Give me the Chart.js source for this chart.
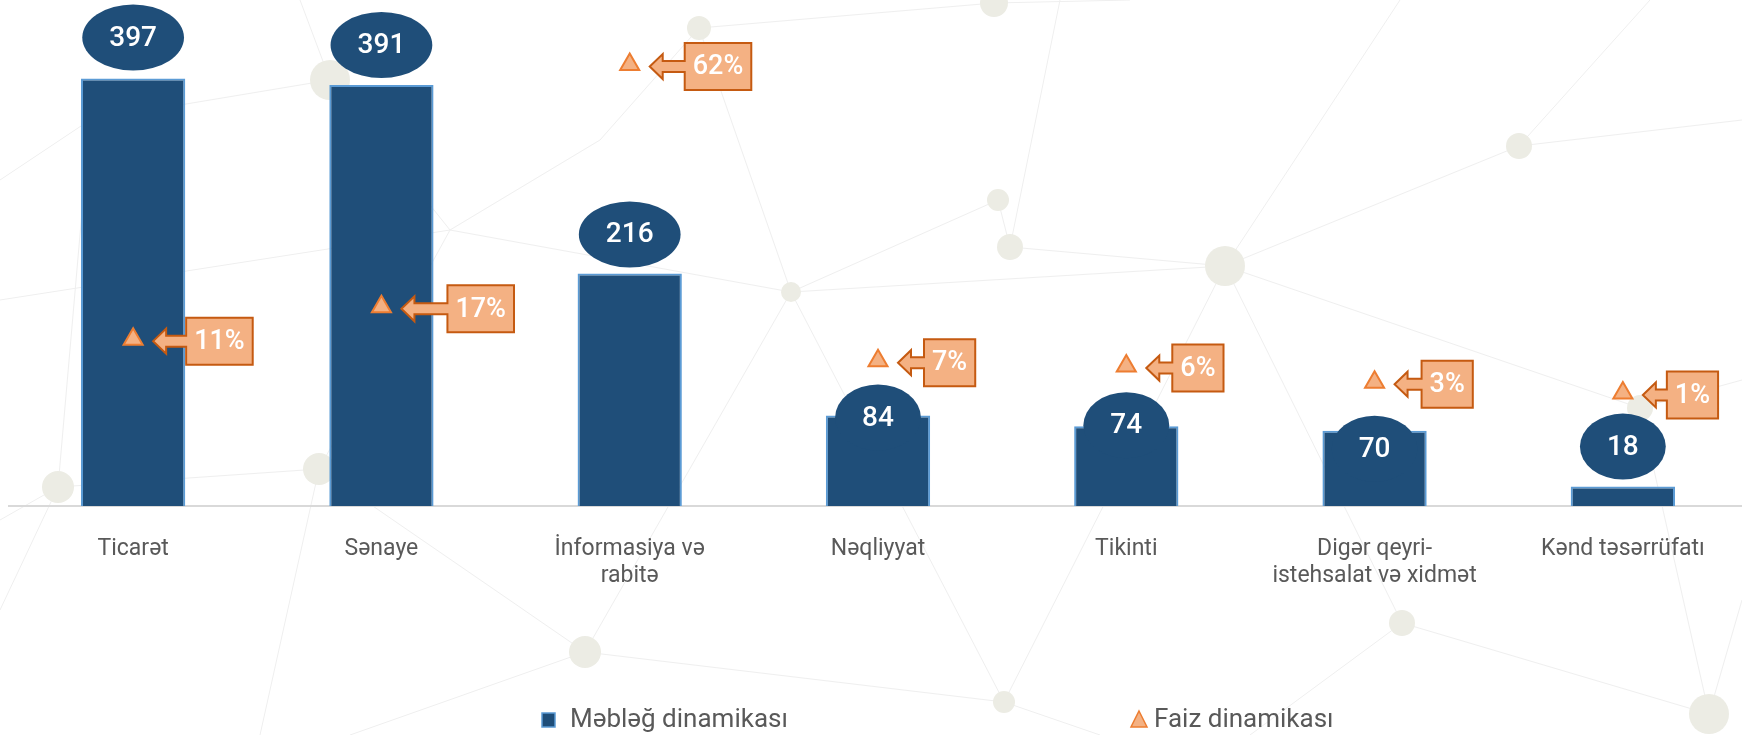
<!DOCTYPE html>
<html>
<head>
<meta charset="utf-8">
<script src="https://cdn.jsdelivr.net/npm/chart.js@4.4.0/dist/chart.umd.min.js"></script>
<style>
  html, body { margin: 0; padding: 0; background: #fff; overflow: hidden; }
  #wrap { width: 1742px; height: 735px; overflow: hidden; }
  canvas { display: block; }
</style>
</head>
<body>
<div id="wrap"><canvas id="chart" width="1747" height="735"></canvas></div>
<script>
// ===== DATA =====
const categories = [
  ['Ticarət'], ['Sənaye'], ['İnformasiya və', 'rabitə'], ['Nəqliyyat'],
  ['Tikinti'], ['Digər qeyri-', 'istehsalat və xidmət'], ['Kənd təsərrüfatı']
];
const amounts  = [397, 391, 216, 84, 74, 70, 18];
const percents = [11, 17, 62, 7, 6, 3, 1];
const seriesNames = ['Məbləğ dinamikası', 'Faiz dinamikası'];

const FONT = 'Roboto, "Noto Sans", sans-serif';
const BLUE = '#1F4E79', BLUE_EDGE = '#5B9BD5';
const ORANGE = '#F4B183', ORANGE_EDGE = '#C55A11', TRI_EDGE = '#ED7D31';
const GREY = '#595959';

// background network decoration (not data)
const bgNodes = [
  [994, 3, 14], [699, 28, 12], [330, 80, 20], [1519, 146, 13], [998, 200, 11],
  [1010, 247, 13], [1225, 266, 20], [791, 292, 10], [319, 469, 16], [58, 487, 16],
  [585, 652, 16], [1402, 623, 13], [1004, 702, 11], [1709, 714, 20], [1640, 408, 13]
];
const bgLines = [
  [[0,180],[90,120]], [[90,120],[330,80]], [[330,80],[450,230]], [[450,230],[791,292]],
  [[330,80],[300,0]], [[699,28],[600,140]], [[699,28],[994,3]], [[994,3],[1130,0]],
  [[699,28],[791,292]], [[791,292],[998,200]], [[998,200],[1010,247]], [[1010,247],[1225,266]],
  [[1225,266],[1519,146]], [[1519,146],[1742,120]], [[1519,146],[1650,0]], [[1225,266],[1400,0]],
  [[1010,247],[1060,0]], [[1225,266],[1640,408]], [[1640,408],[1742,380]], [[1225,266],[1402,623]],
  [[1402,623],[1709,714]], [[1402,623],[1250,735]], [[1004,702],[1225,266]], [[1004,702],[585,652]],
  [[585,652],[319,469]], [[319,469],[58,487]], [[58,487],[0,520]], [[58,487],[90,120]],
  [[319,469],[450,230]], [[585,652],[791,292]], [[585,652],[350,735]], [[791,292],[1004,702]],
  [[0,610],[58,487]], [[1709,714],[1742,600]], [[1640,408],[1709,714]], [[450,230],[600,140]],
  [[0,300],[450,230]], [[791,292],[1225,266]], [[1004,702],[1100,735]], [[319,469],[260,735]]
];

const bgPlugin = {
  id: 'bg',
  beforeDraw(chart) {
    const ctx = chart.ctx;
    ctx.save();
    ctx.fillStyle = '#fff';
    ctx.fillRect(0, 0, chart.width, chart.height);
    ctx.strokeStyle = '#efefef';
    ctx.lineWidth = 1;
    bgLines.forEach(([a, b]) => {
      ctx.beginPath(); ctx.moveTo(a[0], a[1]); ctx.lineTo(b[0], b[1]); ctx.stroke();
    });
    ctx.fillStyle = '#ecece4';
    bgNodes.forEach(([x, y, r]) => {
      ctx.beginPath(); ctx.arc(x, y, r, 0, Math.PI * 2); ctx.fill();
    });
    ctx.restore();
  }
};

// value ellipses + percent callouts + legend
const labelsPlugin = {
  id: 'labels',
  afterDatasetsDraw(chart, args, opts) {
    const ctx = chart.ctx;
    ctx.save();

    // ellipses with amounts
    const bars = chart.getDatasetMeta(0).data;
    ctx.font = '500 28px ' + FONT;
    ctx.textAlign = 'center';
    ctx.textBaseline = 'middle';
    bars.forEach((bar, i) => {
      const txt = String(amounts[i]);
      const tw = ctx.measureText(txt).width;
      const cx = bar.x, cy = bar.y + opts.shift[i];
      ctx.fillStyle = BLUE;
      ctx.beginPath();
      ctx.ellipse(cx, cy, tw / 2 + 27, 33, 0, 0, Math.PI * 2);
      ctx.fill();
      ctx.fillStyle = '#fff';
      ctx.fillText(txt, cx, cy + 1);
    });

    // percent callouts
    const pts = chart.getDatasetMeta(1).data;
    ctx.font = '500 27px ' + FONT;
    pts.forEach((p, i) => {
      const txt = percents[i] + '%';
      const tw = ctx.measureText(txt).width;
      const cy = p.y + 2;
      const tip = p.x + 20, hx = tip + 13, bl = p.x + opts.boxGap[i];
      const bw = tw + 16, bh = 47, bt = cy - bh / 2;
      ctx.beginPath();
      ctx.moveTo(bl, bt);
      ctx.lineTo(bl + bw, bt);
      ctx.lineTo(bl + bw, bt + bh);
      ctx.lineTo(bl, bt + bh);
      ctx.lineTo(bl, cy + 5.5);
      ctx.lineTo(hx, cy + 5.5);
      ctx.lineTo(hx, cy + 12.5);
      ctx.lineTo(tip, cy);
      ctx.lineTo(hx, cy - 12.5);
      ctx.lineTo(hx, cy - 5.5);
      ctx.lineTo(bl, cy - 5.5);
      ctx.closePath();
      ctx.fillStyle = ORANGE;
      ctx.fill();
      ctx.strokeStyle = ORANGE_EDGE;
      ctx.lineWidth = 2;
      ctx.stroke();
      ctx.fillStyle = '#fff';
      ctx.fillText(txt, bl + bw / 2, cy + 1);
    });
    ctx.restore();
  },
  afterDraw(chart) {
    const ctx = chart.ctx;
    ctx.save();
    const ly = 720;
    ctx.font = '26px ' + FONT;
    ctx.textAlign = 'left';
    ctx.textBaseline = 'middle';
    // bar legend
    ctx.fillStyle = BLUE;
    ctx.fillRect(542, ly - 7, 13, 14);
    ctx.strokeStyle = BLUE_EDGE;
    ctx.lineWidth = 1.5;
    ctx.strokeRect(542, ly - 7, 13, 14);
    ctx.fillStyle = GREY;
    ctx.fillText(seriesNames[0], 570, ly);
    // triangle legend
    ctx.beginPath();
    ctx.moveTo(1139, ly - 9);
    ctx.lineTo(1147, ly + 7);
    ctx.lineTo(1131, ly + 7);
    ctx.closePath();
    ctx.fillStyle = ORANGE;
    ctx.fill();
    ctx.strokeStyle = TRI_EDGE;
    ctx.stroke();
    ctx.fillStyle = GREY;
    ctx.fillText(seriesNames[1], 1154, ly);
    ctx.restore();
  }
};

new Chart(document.getElementById('chart'), {
  type: 'bar',
  data: {
    labels: categories,
    datasets: [
      {
        label: seriesNames[0], data: amounts, yAxisID: 'y', order: 2,
        backgroundColor: BLUE, borderColor: BLUE_EDGE, borderWidth: 2,
        barPercentage: 0.42, categoryPercentage: 1
      },
      {
        type: 'line', label: seriesNames[1], data: percents, yAxisID: 'y2', order: 1,
        showLine: false, pointStyle: 'triangle', pointRadius: 11,
        pointBackgroundColor: ORANGE, pointBorderColor: TRI_EDGE, pointBorderWidth: 2
      }
    ]
  },
  options: {
    responsive: false,
    animation: false,
    layout: { autoPadding: false, padding: { left: 9, right: 0, top: 0, bottom: 0 } },
    plugins: {
      legend: { display: false },
      tooltip: { enabled: false },
      labels: {
        shift:  [-41, -40, -39, 2, -1, 18, -40],
        boxGap: [53, 66, 55, 46, 46, 47, 44]
      }
    },
    scales: {
      x: {
        grid: { display: false },
        border: { display: true, color: '#d9d9d9', width: 2 },
        ticks: { color: GREY, font: { family: FONT, size: 23 }, padding: 21, maxRotation: 0 },
        afterFit: s => { s.height = 229; }
      },
      y:  { display: false, min: 0, max: 470 },
      y2: { display: false, min: -20, max: 74 }
    }
  },
  plugins: [bgPlugin, labelsPlugin]
});
</script>
</body>
</html>
